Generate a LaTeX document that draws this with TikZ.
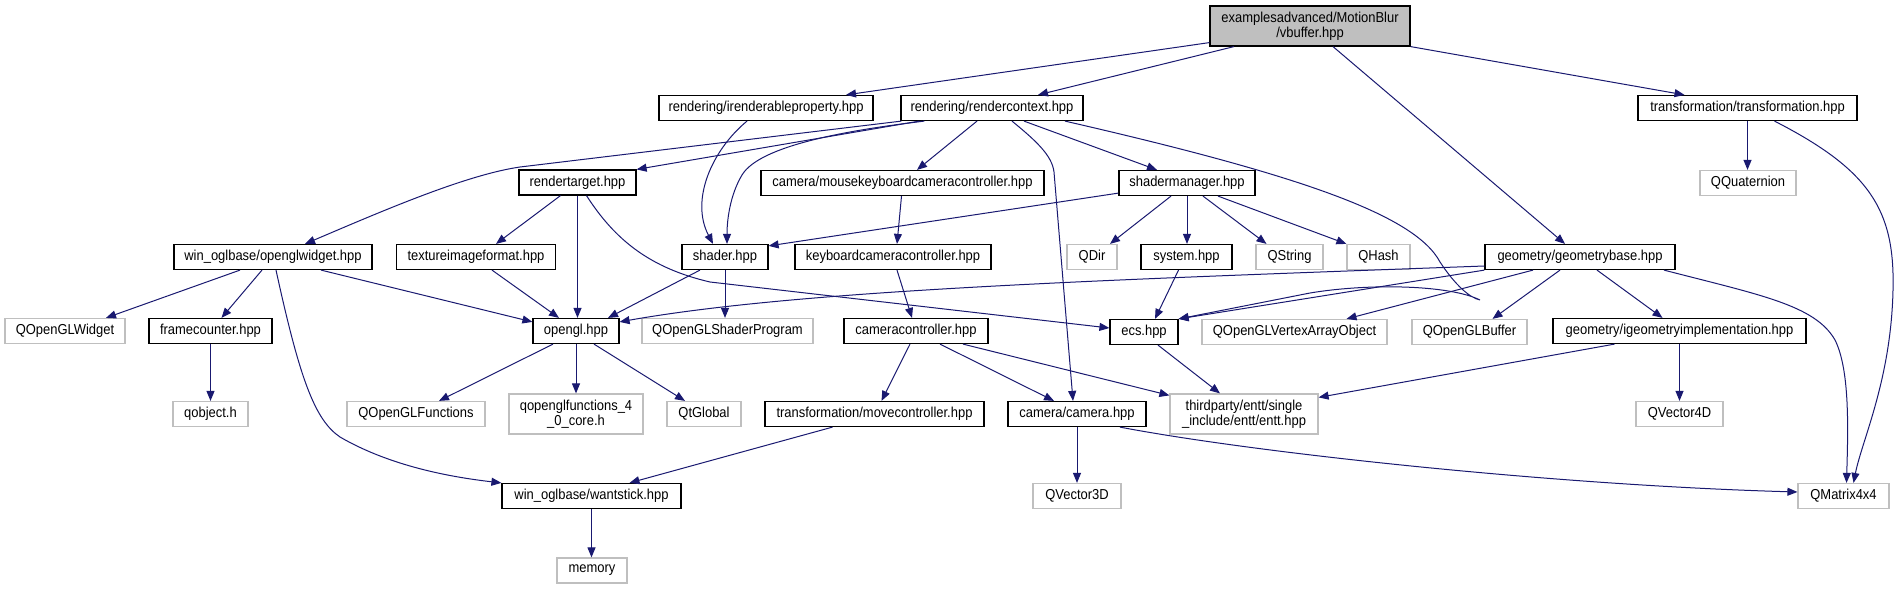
\documentclass[tikz,border=0pt]{standalone}
\usepackage{fontspec}
\setmainfont{Liberation Sans}[FakeStretch=0.9]
\usetikzlibrary{arrows.meta,calc}
\definecolor{edgec}{RGB}{25,25,112}
\definecolor{greyb}{RGB}{191,191,191}
\begin{document}
\begin{tikzpicture}[x=0.75pt,y=-0.75pt,
  every node/.style={font=\fontsize{10.8}{11.4}\selectfont, inner sep=0pt, align=center},
  bk/.style={draw=black, line width=0.9pt, fill=white, minimum height=18.75pt, minimum width=#1*0.75pt},
  gr/.style={draw=greyb, line width=0.9pt, fill=white, minimum height=18.75pt, minimum width=#1*0.75pt},
  grtwo/.style={draw=greyb, line width=0.9pt, fill=white, minimum height=30pt, minimum width=#1*0.75pt},
  topn/.style={draw=black, line width=0.9pt, fill=greyb, minimum height=30pt, minimum width=150pt},
  ed/.style={draw=edgec, line width=0.75pt, -{Triangle[length=7.5pt,width=6pt]}},
]
\useasboundingbox (0,0) rectangle (1895,589);

\node[topn] (top) at (1310,26) {examplesadvanced/MotionBlur\\/vbuffer.hpp};
\node[bk=214] (irp) at (766,108) {rendering/irenderableproperty.hpp};
\node[bk=182] (rc) at (992,108) {rendering/rendercontext.hpp};
\node[bk=219] (trf) at (1747.5,108) {transformation/transformation.hpp};
\node[bk=117] (rt) at (577.5,182.5) {rendertarget.hpp};
\node[bk=283] (mkcc) at (902.5,183) {camera/mousekeyboardcameracontroller.hpp};
\node[bk=136] (sm) at (1187,183) {shadermanager.hpp};
\node[gr=96] (qquat) at (1748,183) {QQuaternion};
\node[bk=198] (ow) at (273,257) {win\_oglbase/openglwidget.hpp};
\node[bk=159] (tif) at (476,257) {textureimageformat.hpp};
\node[bk=86] (shader) at (725,257) {shader.hpp};
\node[bk=196] (kcc) at (893,257) {keyboardcameracontroller.hpp};
\node[gr=50] (qdir) at (1092,257) {QDir};
\node[bk=91] (sys) at (1186.5,257) {system.hpp};
\node[gr=67] (qstring) at (1289.5,257) {QString};
\node[gr=63] (qhash) at (1378.5,257) {QHash};
\node[bk=190] (gb) at (1580,257) {geometry/geometrybase.hpp};
\node[gr=120] (qglw) at (65,331) {QOpenGLWidget};
\node[bk=123] (fc) at (210.5,331) {framecounter.hpp};
\node[bk=86] (ogl) at (576,331) {opengl.hpp};
\node[gr=171] (qsp) at (727.5,331) {QOpenGLShaderProgram};
\node[bk=144] (cc) at (916,331) {cameracontroller.hpp};
\node[bk=68] (ecs) at (1144,332) {ecs.hpp};
\node[gr=185] (vao) at (1294.5,332) {QOpenGLVertexArrayObject};
\node[gr=115] (buf) at (1469.5,332) {QOpenGLBuffer};
\node[bk=253] (igi) at (1679.5,331) {geometry/igeometryimplementation.hpp};
\node[gr=75] (qobj) at (210.5,414) {qobject.h};
\node[gr=138] (qglf) at (416,414) {QOpenGLFunctions};
\node[grtwo=134] (qglf40) at (576,414) {qopenglfunctions\_4\\\_0\_core.h};
\node[gr=74] (qtg) at (704,414) {QtGlobal};
\node[bk=219] (mc) at (874.5,414) {transformation/movecontroller.hpp};
\node[bk=138] (cam) at (1077,414) {camera/camera.hpp};
\node[grtwo=148] (entt) at (1244,414) {thirdparty/entt/single\\\_include/entt/entt.hpp};
\node[gr=87] (qv4) at (1679.5,414) {QVector4D};
\node[bk=179] (ws) at (591.5,496) {win\_oglbase/wantstick.hpp};
\node[gr=88] (qv3) at (1077,496) {QVector3D};
\node[gr=91] (qm) at (1843.5,496) {QMatrix4x4};
\node[gr=70] (mem) at (592,570.5) {memory};

% top node
\draw[ed] ($(top.south west)+(0,-4)$) -- ($(irp.north)+(80,0)$);
\draw[ed] ($(top.south)+(-76,0)$) -- ($(rc.north)+(46,0)$);
\draw[ed] ($(top.south)+(23,0)$) -- ($(gb.north)+(-15,0)$);
\draw[ed] (top.south east) -- ($(trf.north)+(-63,0)$);
% irenderableproperty
\draw[ed] ($(irp.south)+(-19,0)$) .. controls (712,150) and (690,200) .. ($(shader.north)+(-12,0)$);
% rendercontext
\draw[ed] ($(rc.south west)+(1,0)$) -- (520,167) .. controls (465,175) and (380,212) .. ($(ow.north)+(32,0)$);
\draw[ed] ($(rc.south west)+(19,0)$) -- (rt.north east);
\draw[ed] ($(rc.south west)+(24,0)$) .. controls (850,130) and (760,145) .. (742,175) .. controls (730,195) and (727,220) .. ($(shader.north)+(2,0)$);
\draw[ed] ($(rc.south)+(-15,0)$) -- ($(mkcc.north)+(14.5,0)$);
\draw[ed] ($(rc.south)+(32,0)$) -- ($(sm.north)+(-30,0)$);
\draw[ed] ($(rc.south)+(20,0)$) .. controls (1035,140) and (1052,155) .. (1054,172) -- ($(cam.north)+(-4,0)$);
\draw[ed] ($(rc.south)+(73,0)$) .. controls (1300,175) and (1415,215) .. (1440,262) .. controls (1455,285) and (1470,298) .. (1480,300) .. controls (1450,285) and (1370,283) .. (1310,293) -- (ecs.north east);
% rendertarget
\draw[ed] ($(rt.south)+(-17,0)$) -- ($(tif.north)+(20,0)$);
\draw[ed] (rt.south) -- (rt.south|-ogl.north);
\draw[ed] ($(rt.south)+(9,0)$) .. controls (615,240) and (650,268) .. (710,282) -- ($(ecs.west)+(0,-4)$);
% openglwidget
\draw[ed] ($(ow.south)+(-33,0)$) -- ($(qglw.north)+(41,0)$);
\draw[ed] ($(ow.south)+(-11,0)$) -- ($(fc.north)+(11,0)$);
\draw[ed] ($(ow.south)+(48,0)$) -- ($(ogl.north west)+(0,4)$);
\draw[ed] ($(ow.south)+(3,0)$) .. controls (300,380) and (315,420) .. (340,437) .. controls (390,466) and (450,477) .. (ws.north west);
% textureimageformat, shader
\draw[ed] ($(tif.south)+(16,0)$) -- ($(ogl.north)+(-17,0)$);
\draw[ed] ($(shader.south)+(-25,0)$) -- ($(ogl.north)+(32,0)$);
\draw[ed] (shader.south) -- (shader.south|-qsp.north);
% shadermanager
\draw[ed] ($(sm.south west)+(0,-3)$) -- ($(shader.north east)+(0,2)$);
\draw[ed] ($(sm.south)+(-16,0)$) -- ($(qdir.north)+(18,0)$);
\draw[ed] (sm.south) -- (sm.south|-sys.north);
\draw[ed] ($(sm.south)+(16,0)$) -- ($(qstring.north)+(-23,0)$);
\draw[ed] ($(sm.south)+(31,0)$) -- (qhash.north west);
\draw[ed] ($(sys.south)+(-8,0)$) -- ($(ecs.north)+(11,0)$);
% camera controllers
\draw[ed] ($(mkcc.south)+(-1,0)$) -- ($(kcc.north)+(4,0)$);
\draw[ed] ($(kcc.south)+(4,0)$) -- ($(cc.north)+(-4,0)$);
\draw[ed] ($(cc.south)+(-6,0)$) -- ($(mc.north)+(7,0)$);
\draw[ed] ($(cc.south)+(24,0)$) -- ($(cam.north)+(-23,0)$);
\draw[ed] ($(cc.south)+(47,0)$) -- ($(entt.north west)+(0,2)$);
% geometrybase
\draw[ed] ($(gb.west)+(0,9)$) .. controls (1100,280) and (800,290) .. ($(ogl.north east)+(0,4)$);
\draw[ed] (gb.south west) -- (ecs.north east);
\draw[ed] ($(gb.south)+(-47,0)$) -- ($(vao.north)+(52,0)$);
\draw[ed] ($(gb.south)+(-20,0)$) -- ($(buf.north)+(23,0)$);
\draw[ed] ($(gb.south)+(17,0)$) -- ($(igi.north)+(-17,0)$);
\draw[ed] ($(gb.south)+(84,0)$) .. controls (1760,295) and (1815,305) .. (1835,340) .. controls (1850,370) and (1848,430) .. ($(qm.north)+(3,0)$);
% transformation
\draw[ed] (trf.south) -- (trf.south|-qquat.north);
\draw[ed] ($(trf.south)+(27,0)$) .. controls (1870,170) and (1895,210) .. (1893,290) .. controls (1891,380) and (1862,440) .. ($(qm.north)+(10,0)$);
% opengl
\draw[ed] ($(ogl.south)+(-23,0)$) -- ($(qglf.north)+(23,0)$);
\draw[ed] (ogl.south) -- (qglf40.north);
\draw[ed] ($(ogl.south)+(18,0)$) -- ($(qtg.north)+(-19,0)$);
\draw[ed] (fc.south) -- (fc.south|-qobj.north);
% ecs, igi
\draw[ed] ($(ecs.south)+(14,0)$) -- ($(entt.north)+(-24,0)$);
\draw[ed] ($(igi.south)+(-65,0)$) -- ($(entt.north east)+(0,4)$);
\draw[ed] (igi.south) -- (qv4.north);
% movecontroller, camera, wantstick
\draw[ed] ($(mc.south)+(-42,0)$) -- ($(ws.north)+(38,0)$);
\draw[ed] (cam.south) -- (qv3.north);
\draw[ed] ($(cam.south)+(43,0)$) .. controls (1250,452) and (1550,485) .. ($(qm.west)+(0,-4)$);
\draw[ed] (ws.south) -- (ws.south|-mem.north);
\end{tikzpicture}
\end{document}
